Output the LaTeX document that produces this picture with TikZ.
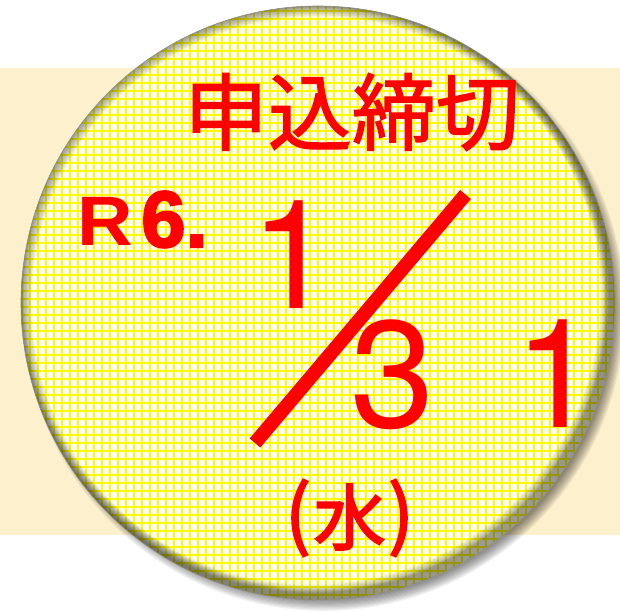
\documentclass[tikz,border=0pt]{standalone}
\usepackage{fontspec}
\newfontfamily\cjk[FakeBold=1.6]{Noto Sans CJK JP}
\newfontfamily\cjkmid[FakeBold=2.5]{Noto Sans CJK JP}
\newfontfamily\helv{TeX Gyre Heros}
\newfontfamily\arial{Liberation Sans}
\newfontfamily\arialheavy[FakeBold=2.5]{Liberation Sans Bold}
\definecolor{bandc}{HTML}{FDF0CD}
\definecolor{gridc}{RGB}{255,250,0}
\definecolor{redc}{RGB}{255,0,0}
\tikzset{
  gridline/.style={draw=gridc, line width=1.8pt},
  digit/.style={text=redc, inner sep=0pt, anchor=base west, font=\helv\fontsize{152}{152}\selectfont},
  cjkbig/.style={text=redc, inner sep=0pt, font=\cjk\fontsize{84}{84}\selectfont},
  slashline/.style={draw=redc, line width=14pt},
  paren/.style={text=redc, inner sep=0pt, anchor=center, font=\cjkmid\fontsize{76}{76}\selectfont},
}
\begin{document}
\begin{tikzpicture}[x=1pt,y=-1pt]
\useasboundingbox (0,0) rectangle (620,611);
\fill[bandc] (0,68) rectangle (620,535);
% drop shadow
\foreach \i in {0,...,9} \fill[black, opacity=0.055] (324,310) circle ({290+\i*1.2});
\coordinate (c) at (318,303);
\fill[white] (c) circle (297);
\begin{scope}
\clip (c) circle (297);
\foreach \x in {22,30,...,614} \draw[gridline] (\x,0) -- (\x,611);
\foreach \y in {3,11,...,611} \draw[gridline] (0,\y) -- (620,\y);
\foreach \w in {2,4,...,22} \draw[black, opacity=0.04, line width=\w pt] (c) circle (297);
\foreach \w in {2,4,...,18} \draw[black, opacity=0.04, line width=\w pt] (312,296) circle (297);
\end{scope}
\draw[black!45, line width=0.6pt] (c) circle (297);
% texts
\node[cjkbig] (title) at (352,112) {申込締切};
\node[text=redc, inner sep=0pt, anchor=base west, xscale=1.1, font=\arial\bfseries\fontsize{70}{70}\selectfont] (r) at (77,245) {R};
\node[text=redc, inner sep=0pt, anchor=base west, font=\arialheavy\fontsize{80}{80}\selectfont] (six) at (141,247) {6.};
\node[digit] (one) at (250.4,308) {1};
\node[digit] (three) at (350.5,427) {3};
\node[digit] (oneb) at (514.4,427) {1};
\coordinate (s1) at (465.5,194.5);
\coordinate (s2) at (255,443);
\draw[slashline] (s1) -- (s2);
\node[paren] (lp) at (298,518) {(};
\node[text=redc, inner sep=0pt, anchor=center, font=\cjkmid\fontsize{72}{72}\selectfont] (wed) at (349.5,517) {水};
\node[paren] (rp) at (401,518) {)};
\end{tikzpicture}
\end{document}
